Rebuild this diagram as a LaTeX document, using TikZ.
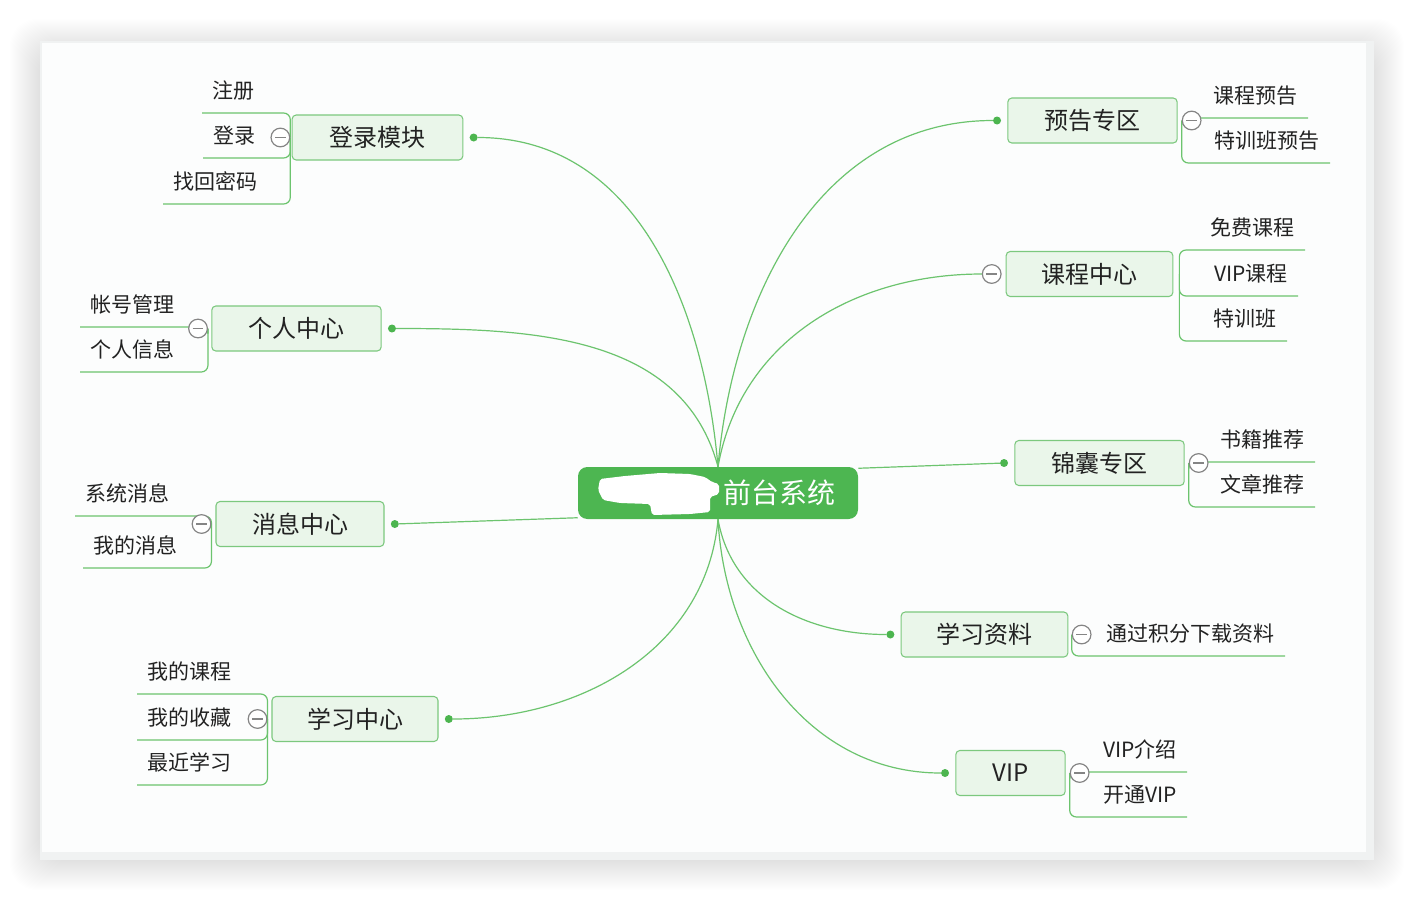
\documentclass[tikz,border=0pt]{standalone}
\usepackage{fontspec}
\setmainfont{Noto Sans CJK SC}
\usepackage{xcolor}
\usepackage{tikz}
\usetikzlibrary{positioning}
\definecolor{wiregreen}{HTML}{6CC46E}
\definecolor{dotgreen}{HTML}{4CB54F}
\definecolor{boxfill}{HTML}{EAF6EA}
\definecolor{boxline}{HTML}{7CC87E}
\definecolor{hubgreen}{HTML}{4DB651}
\definecolor{foldgray}{HTML}{858585}
\definecolor{txt}{HTML}{222222}
\definecolor{cardedge}{HTML}{F0F2F2}
\definecolor{cardface}{HTML}{FCFDFD}
\pgfdeclarelayer{back}
\pgfdeclarelayer{wires}
\pgfsetlayers{back,wires,main}

\begin{document}
\begin{tikzpicture}[x=0.75pt,y=-0.75pt,
topic/.style={draw=boxline,fill=boxfill,rounded corners=3pt,line width=0.8pt,minimum height=33.75pt,font=\fontsize{18}{21}\selectfont,text=txt},
sub/.style={inner xsep=7.5pt,inner ysep=7.5pt,text height=13pt,text depth=3pt,font=\fontsize{15.75}{18}\selectfont,text=txt},
knob/.style={circle,fill=dotgreen,inner sep=0pt,minimum size=6pt},
fold/.style={circle,draw=foldgray,fill=white,line width=0.9pt,inner sep=0pt,minimum size=14pt,
  path picture={\draw[foldgray,line width=0.9pt]([xshift=-4pt]path picture bounding box.center)--([xshift=4pt]path picture bounding box.center);}},
wire/.style={draw=wiregreen,line width=0.9pt},
kidline/.style={wire,rounded corners=5pt}]
\useasboundingbox(0,0)rectangle(1414,900);
\begin{pgfonlayer}{back}
\fill[white](0,0)rectangle(1414,900);
\foreach \i in {1,...,30}
  \fill[black,opacity=0.005,rounded corners=20pt](40-\i,49-\i)rectangle(1374+\i,860+\i);
\fill[cardedge](40,41)rectangle(1374,860);
\fill[cardface](42,43)rectangle(1366,852);
\end{pgfonlayer}

\node[fill=hubgreen,rounded corners=7pt,minimum width=210pt,minimum height=39pt,text width=175.5pt,align=right,inner xsep=17.25pt,text=white,font=\fontsize{21}{24}\selectfont](ctr)at(718,493){前台系统};
\fill[white,rounded corners=1.5pt](600,479)--(625,476)--(660,473)--(690,474)--(705,477)--(712,482)--(719,484)--(719,494)--(710,497)--(710,512)--(690,514)--(652,515)--(650,504)--(620,503)--(603,500)--(598,490)--cycle;

\node[topic,minimum width=128pt](login)at(377.5,137.5){登录模块};
\node[topic,minimum width=127pt](personal)at(296.5,328.5){个人中心};
\node[topic,minimum width=126pt](msg)at(300,524){消息中心};
\node[topic,minimum width=124.5pt](study)at(355,719){学习中心};
\node[topic,minimum width=127pt](notice)at(1092.5,120.5){预告专区};
\node[topic,minimum width=125pt](course)at(1089.5,274){课程中心};
\node[topic,minimum width=127pt](tips)at(1099.5,463){锦囊专区};
\node[topic,minimum width=125pt](data)at(984.5,634.5){学习资料};
\node[topic,minimum width=82pt](vip)at(1010.5,773){VIP};

\node[knob,right=4.5pt of login](login-k){};
\node[knob,right=4.5pt of personal](personal-k){};
\node[knob,right=4.5pt of msg](msg-k){};
\node[knob,right=4.5pt of study](study-k){};
\node[knob,left=4.5pt of notice](notice-k){};
\node[knob,left=4.5pt of tips](tips-k){};
\node[knob,left=4.5pt of data](data-k){};
\node[knob,left=4.5pt of vip](vip-k){};

\node[fold,left=1pt of login](login-f){};
\node[fold,left=2.5pt of personal](personal-f){};
\node[fold,left=3pt of msg](msg-f){};
\node[fold,left=3pt of study](study-f){};
\node[fold,right=3pt of notice](notice-f){};
\node[fold,left=3pt of course](course-f){};
\node[fold,right=3pt of tips](tips-f){};
\node[fold,right=2.5pt of data](data-f){};
\node[fold,right=3pt of vip](vip-f){};
\coordinate[right=4.5pt of course](course-b);

\node[sub,anchor=south west](zc)at(202,113){注册};
\node[sub,anchor=south west](dl)at(203,158){登录};
\node[sub,anchor=south west](zhmm)at(163,204){找回密码};
\node[sub,anchor=south west](zhgl)at(80,327){帐号管理};
\node[sub,anchor=south west](grxx)at(80,372){个人信息};
\node[sub,anchor=south west](xtxx)at(75,516){系统消息};
\node[sub,anchor=south west](wdxx)at(83,568){我的消息};
\node[sub,anchor=south west](wdkc)at(137,694){我的课程};
\node[sub,anchor=south west](wdsc)at(137,740){我的收藏};
\node[sub,anchor=south west](zjxx)at(137,785){最近学习};

\node[sub,anchor=south east](kcyg)at(1308,118){课程预告};
\node[sub,anchor=south east](txbyg)at(1330,163){特训班预告};
\node[sub,anchor=south east](mfkc)at(1305,250){免费课程};
\node[sub,anchor=south east](vipkc)at(1298,296){VIP课程};
\node[sub,anchor=south east](txb)at(1287,341){特训班};
\node[sub,anchor=south east](sjtj)at(1315,462){书籍推荐};
\node[sub,anchor=south east](wztj)at(1315,507){文章推荐};
\node[sub,anchor=south east](tgjf)at(1285,656){通过积分下载资料};
\node[sub,anchor=south east](vipjs)at(1187,772){VIP介绍};
\node[sub,anchor=south east](ktvip)at(1187,817){开通VIP};

\begin{pgfonlayer}{wires}
\draw[wire](ctr.north)to[out=95,in=0](login-k);
\draw[wire](ctr.north)to[out=105,in=0](personal-k);
\draw[wire](ctr.190)--(msg-k);
\draw[wire](ctr.south)to[out=-95,in=0](study-k);
\draw[wire](ctr.north)to[out=85,in=180](notice-k);
\draw[wire](ctr.north)to[out=80,in=180](course-f);
\draw[wire](ctr.10)--(tips-k);
\draw[wire](ctr.south)to[out=-80,in=180](data-k);
\draw[wire](ctr.south)to[out=-87,in=180](vip-k);

\draw[kidline](zc.south west)-|(login-f.east);
\draw[kidline](dl.south west)-|(login-f.east);
\draw[kidline](zhmm.south west)-|(login-f.east);
\draw[kidline](zhgl.south west)-|(personal-f.east);
\draw[kidline](grxx.south west)-|(personal-f.east);
\draw[kidline](xtxx.south west)-|(msg-f.east);
\draw[kidline](wdxx.south west)-|(msg-f.east);
\draw[kidline](wdkc.south west)-|(study-f.east);
\draw[kidline](wdsc.south west)-|(study-f.east);
\draw[kidline](zjxx.south west)-|(study-f.east);

\draw[kidline](kcyg.south east)-|(notice-f.west);
\draw[kidline](txbyg.south east)-|(notice-f.west);
\draw[kidline](mfkc.south east)-|(course-b);
\draw[kidline](vipkc.south east)-|(course-b);
\draw[kidline](txb.south east)-|(course-b);
\draw[kidline](sjtj.south east)-|(tips-f.west);
\draw[kidline](wztj.south east)-|(tips-f.west);
\draw[kidline](tgjf.south east)-|(data-f.west);
\draw[kidline](vipjs.south east)-|(vip-f.west);
\draw[kidline](ktvip.south east)-|(vip-f.west);
\end{pgfonlayer}
\end{tikzpicture}
\end{document}
